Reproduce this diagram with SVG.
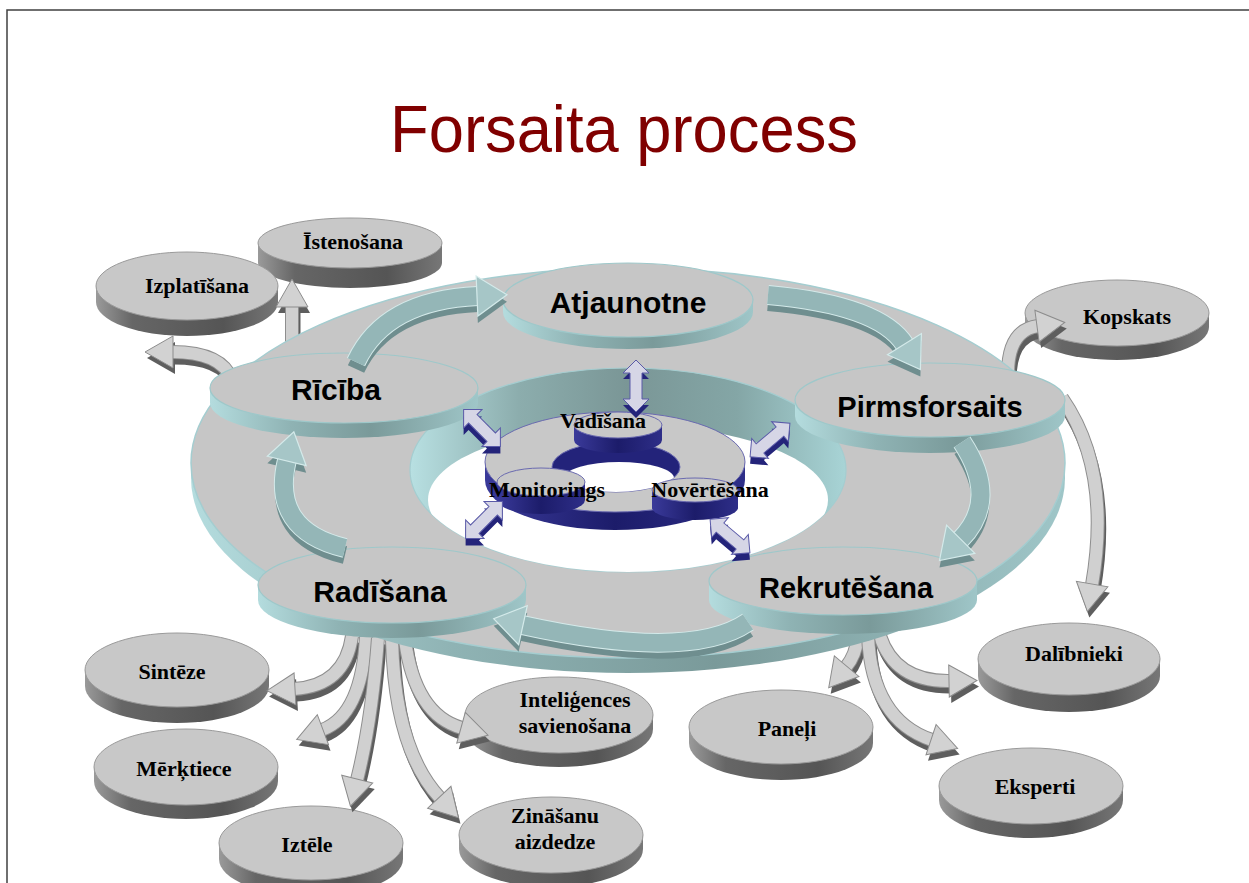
<svg xmlns="http://www.w3.org/2000/svg" width="1249" height="883" viewBox="0 0 1249 883">
<defs>
<linearGradient id="tealSide" x1="0" y1="0" x2="1" y2="0">
<stop offset="0" stop-color="#b4dcde"/><stop offset="0.3" stop-color="#8fb3b4"/><stop offset="0.6" stop-color="#7a9a9a"/><stop offset="1" stop-color="#9fc6c8"/>
</linearGradient>
<linearGradient id="innerWall" x1="0" y1="0" x2="1" y2="0">
<stop offset="0" stop-color="#b8e0e2"/><stop offset="0.25" stop-color="#8cadad"/><stop offset="0.5" stop-color="#7a9696"/><stop offset="0.75" stop-color="#84a6a6"/><stop offset="1" stop-color="#a8d4d6"/>
</linearGradient>
<linearGradient id="graySide" x1="0" y1="0" x2="1" y2="0">
<stop offset="0" stop-color="#9a9a9a"/><stop offset="0.2" stop-color="#666"/><stop offset="0.7" stop-color="#555"/><stop offset="1" stop-color="#777"/>
</linearGradient>
<linearGradient id="navySide" x1="0" y1="0" x2="1" y2="0">
<stop offset="0" stop-color="#3a3a9a"/><stop offset="0.5" stop-color="#1c1c6a"/><stop offset="1" stop-color="#2e2e88"/>
</linearGradient>
<marker id="hgT" markerUnits="userSpaceOnUse" markerWidth="28" markerHeight="32" viewBox="0 0 28 32" refX="1" refY="16" orient="auto" overflow="visible"><path d="M0,0 L28,16 L0,32 Z" fill="#d2d2d2" stroke="#8c8c8c" stroke-width="1"/></marker>
<marker id="hgD" markerUnits="userSpaceOnUse" markerWidth="28" markerHeight="32" viewBox="0 0 28 32" refX="1" refY="16" orient="auto" overflow="visible"><path d="M0,0 L28,16 L0,32 Z" fill="#5e5e5e"/></marker>
<marker id="htT" markerUnits="userSpaceOnUse" markerWidth="30" markerHeight="40" viewBox="0 0 30 40" refX="1" refY="20" orient="auto" overflow="visible"><path d="M0,0 L30,20 L0,40 Z" fill="#a6c6c7" stroke="#d4eaea" stroke-width="1.2"/></marker>
<marker id="htD" markerUnits="userSpaceOnUse" markerWidth="30" markerHeight="40" viewBox="0 0 30 40" refX="1" refY="20" orient="auto" overflow="visible"><path d="M0,0 L30,20 L0,40 Z" fill="#6f8e8f"/></marker>
<clipPath id="holeClip"><ellipse cx="628" cy="470" rx="218" ry="102"/></clipPath>
<clipPath id="donutHole"><ellipse cx="616" cy="467" rx="64" ry="25"/></clipPath>
<polygon id="dblArrow" points="-26,0 -13,-13 -13,-6 13,-6 13,-13 26,0 13,13 13,6 -13,6 -13,13"/>
</defs>
<style>
.bigT{font-family:"Liberation Sans",Arial,sans-serif;font-weight:bold;fill:#000;text-anchor:middle}
.smT{font-family:"Liberation Serif","Times New Roman",serif;font-weight:bold;font-size:22px;fill:#000;text-anchor:middle}
.gTop{fill:#c8c8c8;stroke:#9a9a9a;stroke-width:1}
.gSide{fill:url(#graySide)}
.tTop{fill:#c6c6c6;stroke:#9ec8ca;stroke-width:1.2}
.tSide{fill:url(#tealSide)}
.nTop{fill:#c8c8c8;stroke:#6a6ab0;stroke-width:1}
.nSide{fill:url(#navySide)}
.gaD{fill:none;stroke:#5e5e5e;stroke-width:13;marker-end:url(#hgD)}
.gaO{fill:none;stroke:#8e8e8e;stroke-width:14}
.gaT{fill:none;stroke:#d0d0d0;stroke-width:12;marker-end:url(#hgT)}
.taD{fill:none;stroke:#6f8e8f;stroke-width:18;marker-end:url(#htD)}
.taO{fill:none;stroke:#d4eaea;stroke-width:20}
.taT{fill:none;stroke:#94b6b7;stroke-width:18;marker-end:url(#htT)}
.ba{fill:#d6d6e6;stroke:#5a5aa8;stroke-width:1}
.baD{fill:#24247a}
</style>

<rect x="7" y="10" width="1270" height="900" fill="#fff" stroke="#404040" stroke-width="1.5"/>
<text x="390" y="152" font-family="'Liberation Sans',Arial,sans-serif" font-size="66" fill="#800000" textLength="468" lengthAdjust="spacingAndGlyphs">Forsaita process</text>

<!-- outer nodes -->
<g id="istenosana"><path class="gSide" d="M258,243 L258,263 A92,25 0 0 0 442,263 L442,243 Z"/><ellipse class="gTop" cx="350" cy="243" rx="92" ry="25"/><text class="smT" x="353" y="249">Īstenošana</text></g>
<g id="izplatisana"><path class="gSide" d="M96,286 L96,302 A91,34 0 0 0 278,302 L278,286 Z"/><ellipse class="gTop" cx="187" cy="286" rx="91" ry="34"/><text class="smT" x="197" y="293">Izplatīšana</text></g>
<g id="kopskats"><path class="gSide" d="M1025,313 L1025,327 A92,33 0 0 0 1209,327 L1209,313 Z"/><ellipse class="gTop" cx="1117" cy="313" rx="92" ry="33"/><text class="smT" x="1127" y="324">Kopskats</text></g>
<g id="dalibnieki"><path class="gSide" d="M978,659 L978,676 A91,36 0 0 0 1160,676 L1160,659 Z"/><ellipse class="gTop" cx="1069" cy="659" rx="91" ry="36"/><text class="smT" x="1074" y="661">Dalībnieki</text></g>
<g id="paneli"><path class="gSide" d="M689,727 L689,743 A92,37 0 0 0 873,743 L873,727 Z"/><ellipse class="gTop" cx="781" cy="727" rx="92" ry="37"/><text class="smT" x="787" y="736">Paneļi</text></g>
<g id="eksperti"><path class="gSide" d="M939,786 L939,800 A92,38 0 0 0 1123,800 L1123,786 Z"/><ellipse class="gTop" cx="1031" cy="786" rx="92" ry="38"/><text class="smT" x="1035" y="794">Eksperti</text></g>
<g id="sinteze"><path class="gSide" d="M85,670 L85,686 A92,37 0 0 0 269,686 L269,670 Z"/><ellipse class="gTop" cx="177" cy="670" rx="92" ry="37"/><text class="smT" x="172" y="679">Sintēze</text></g>
<g id="merktiece"><path class="gSide" d="M94,767 L94,781 A92,38 0 0 0 278,781 L278,767 Z"/><ellipse class="gTop" cx="186" cy="767" rx="92" ry="38"/><text class="smT" x="184" y="776">Mērķtiece</text></g>
<g id="iztele"><path class="gSide" d="M219,843 L219,859 A92,37 0 0 0 403,859 L403,843 Z"/><ellipse class="gTop" cx="311" cy="843" rx="92" ry="37"/><text class="smT" x="307" y="852">Iztēle</text></g>
<g id="inteligences"><path class="gSide" d="M465,715 L465,729 A94,38 0 0 0 653,729 L653,715 Z"/><ellipse class="gTop" cx="559" cy="715" rx="94" ry="38"/><text class="smT" x="575" y="707">Inteliģences</text><text class="smT" x="575" y="733">savienošana</text></g>
<g id="zinasanu"><path class="gSide" d="M459,835 L459,849 A92,38 0 0 0 643,849 L643,835 Z"/><ellipse class="gTop" cx="551" cy="835" rx="92" ry="38"/><text class="smT" x="555" y="823">Zināšanu</text><text class="smT" x="555" y="849">aizdedze</text></g>

<!-- outer connectors -->
<g id="connectors-outer">
<g transform="translate(2,6)">
<path class="gaD" d="M232,380 Q222,352 172,352"/>
<path class="gaD" d="M292,362 L292,306"/>
<path class="gaD" d="M1008,374 Q1008,330 1038,326"/>
<path class="gaD" d="M1062,398 Q1112,470 1092,585"/>
<path class="gaD" d="M858,636 Q856,655 846,667"/>
<path class="gaD" d="M880,636 Q895,682 950,681"/>
<path class="gaD" d="M868,636 Q872,720 932,740"/>
<path class="gaD" d="M352,636 Q345,686 294,689"/>
<path class="gaD" d="M366,636 Q362,715 322,730"/>
<path class="gaD" d="M378,638 Q372,720 357,780"/>
<path class="gaD" d="M392,640 Q395,750 440,798"/>
<path class="gaD" d="M405,640 Q415,715 462,728"/>
</g>
<path class="gaO" d="M232,380 Q222,352 172,352"/><path class="gaT" d="M232,380 Q222,352 172,352"/>
<path class="gaO" d="M292,362 L292,306"/><path class="gaT" d="M292,362 L292,306"/>
<path class="gaO" d="M1008,374 Q1008,330 1038,326"/><path class="gaT" d="M1008,374 Q1008,330 1038,326"/>
<path class="gaO" d="M1062,398 Q1112,470 1092,585"/><path class="gaT" d="M1062,398 Q1112,470 1092,585"/>
<path class="gaO" d="M858,636 Q856,655 846,667"/><path class="gaT" d="M858,636 Q856,655 846,667"/>
<path class="gaO" d="M880,636 Q895,682 950,681"/><path class="gaT" d="M880,636 Q895,682 950,681"/>
<path class="gaO" d="M868,636 Q872,720 932,740"/><path class="gaT" d="M868,636 Q872,720 932,740"/>
<path class="gaO" d="M352,636 Q345,686 294,689"/><path class="gaT" d="M352,636 Q345,686 294,689"/>
<path class="gaO" d="M366,636 Q362,715 322,730"/><path class="gaT" d="M366,636 Q362,715 322,730"/>
<path class="gaO" d="M378,638 Q372,720 357,780"/><path class="gaT" d="M378,638 Q372,720 357,780"/>
<path class="gaO" d="M392,640 Q395,750 440,798"/><path class="gaT" d="M392,640 Q395,750 440,798"/>
<path class="gaO" d="M405,640 Q415,715 462,728"/><path class="gaT" d="M405,640 Q415,715 462,728"/>
</g>

<!-- main ring -->
<g id="ring">
<path class="tSide" d="M191,463 L191,478 A437,195 0 0 0 1065,478 L1065,463 Z"/>
<ellipse cx="628" cy="463" rx="437" ry="195" fill="#c6c6c6" stroke="#a4cdd0" stroke-width="1.5"/>
<ellipse cx="628" cy="470" rx="218" ry="102" fill="url(#innerWall)" stroke="#a4cdd0" stroke-width="1.2"/>
<ellipse cx="628" cy="500" rx="200" ry="75" fill="#fff" clip-path="url(#holeClip)"/>
</g>

<!-- inner donut -->
<g id="inner-ring">
<path class="nSide" d="M485,462 L485,480 A130,50 0 0 0 745,480 L745,462 Z"/>
<ellipse class="nTop" cx="615" cy="462" rx="130" ry="50"/>
<ellipse cx="616" cy="467" rx="64" ry="25" fill="#23237a" stroke="#6a6ab0" stroke-width="1"/>
<ellipse cx="619" cy="478" rx="55" ry="16" fill="#fff" clip-path="url(#donutHole)"/>
</g>

<!-- ring nodes -->
<g id="atjaunotne"><path class="tSide" d="M503,300 L503,312 A125,37 0 0 0 753,312 L753,300 Z"/><ellipse class="tTop" cx="628" cy="300" rx="125" ry="37"/><text class="bigT" x="628" y="313" font-size="30">Atjaunotne</text></g>
<g id="riciba"><path class="tSide" d="M210,388 L210,403 A134,35 0 0 0 478,403 L478,388 Z"/><ellipse class="tTop" cx="344" cy="388" rx="134" ry="35"/><text class="bigT" x="336" y="400" font-size="30">Rīcība</text></g>
<g id="pirmsforsaits"><path class="tSide" d="M795,400 L795,416 A135,37 0 0 0 1065,416 L1065,400 Z"/><ellipse class="tTop" cx="930" cy="400" rx="135" ry="37"/><text class="bigT" x="930" y="417" font-size="29">Pirmsforsaits</text></g>
<g id="rekrutesana"><path class="tSide" d="M709,581 L709,600 A134,34 0 0 0 977,600 L977,581 Z"/><ellipse class="tTop" cx="843" cy="581" rx="134" ry="34"/><text class="bigT" x="846" y="598" font-size="29">Rekrutēšana</text></g>
<g id="radisana"><path class="tSide" d="M258,585 L258,600 A134,38 0 0 0 526,600 L526,585 Z"/><ellipse class="tTop" cx="392" cy="585" rx="134" ry="38"/><text class="bigT" x="380" y="602" font-size="30">Radīšana</text></g>

<!-- ring connectors -->
<g id="connectors-ring">
<g transform="translate(0,7)">
<path class="taD" d="M356,362 Q385,300 478,296"/>
<path class="taD" d="M768,295 Q880,305 905,345"/>
<path class="taD" d="M962,442 Q1000,500 960,540"/>
<path class="taD" d="M748,622 Q690,662 522,625"/>
<path class="taD" d="M345,548 Q270,530 287,460"/>
</g>
<path class="taO" d="M356,362 Q385,300 478,296"/><path class="taT" d="M356,362 Q385,300 478,296"/>
<path class="taO" d="M768,295 Q880,305 905,345"/><path class="taT" d="M768,295 Q880,305 905,345"/>
<path class="taO" d="M962,442 Q1000,500 960,540"/><path class="taT" d="M962,442 Q1000,500 960,540"/>
<path class="taO" d="M748,622 Q690,662 522,625"/><path class="taT" d="M748,622 Q690,662 522,625"/>
<path class="taO" d="M345,548 Q270,530 287,460"/><path class="taT" d="M345,548 Q270,530 287,460"/>
</g>

<!-- inner discs -->
<g id="vadisana"><path class="nSide" d="M574,425 L574,440 A44,13 0 0 0 662,440 L662,425 Z"/><ellipse class="nTop" cx="618" cy="425" rx="44" ry="13"/><text class="smT" x="603" y="428">Vadīšana</text></g>
<g id="monitorings"><path class="nSide" d="M497,482 L497,500 A44,14 0 0 0 585,500 L585,482 Z"/><ellipse class="nTop" cx="541" cy="482" rx="44" ry="14"/><text class="smT" x="547" y="497">Monitorings</text></g>
<g id="novertesana"><path class="nSide" d="M652,490 L652,508 A43,12 0 0 0 738,508 L738,490 Z"/><ellipse class="nTop" cx="695" cy="490" rx="43" ry="12"/><text class="smT" x="710" y="497">Novērtēšana</text></g>

<!-- inner connectors -->
<g id="connectors-inner">
<use href="#dblArrow" class="baD" transform="translate(636,392) rotate(90)"/>
<use href="#dblArrow" class="ba" transform="translate(636,386) rotate(90)"/>
<use href="#dblArrow" class="baD" transform="translate(482,435) rotate(45)"/>
<use href="#dblArrow" class="ba" transform="translate(482,428) rotate(45)"/>
<use href="#dblArrow" class="baD" transform="translate(770,447) rotate(-40)"/>
<use href="#dblArrow" class="ba" transform="translate(770,440) rotate(-40)"/>
<use href="#dblArrow" class="baD" transform="translate(484,527) rotate(-45)"/>
<use href="#dblArrow" class="ba" transform="translate(484,520) rotate(-45)"/>
<use href="#dblArrow" class="baD" transform="translate(730,543) rotate(40)"/>
<use href="#dblArrow" class="ba" transform="translate(730,536) rotate(40)"/>
</g>
</svg>
